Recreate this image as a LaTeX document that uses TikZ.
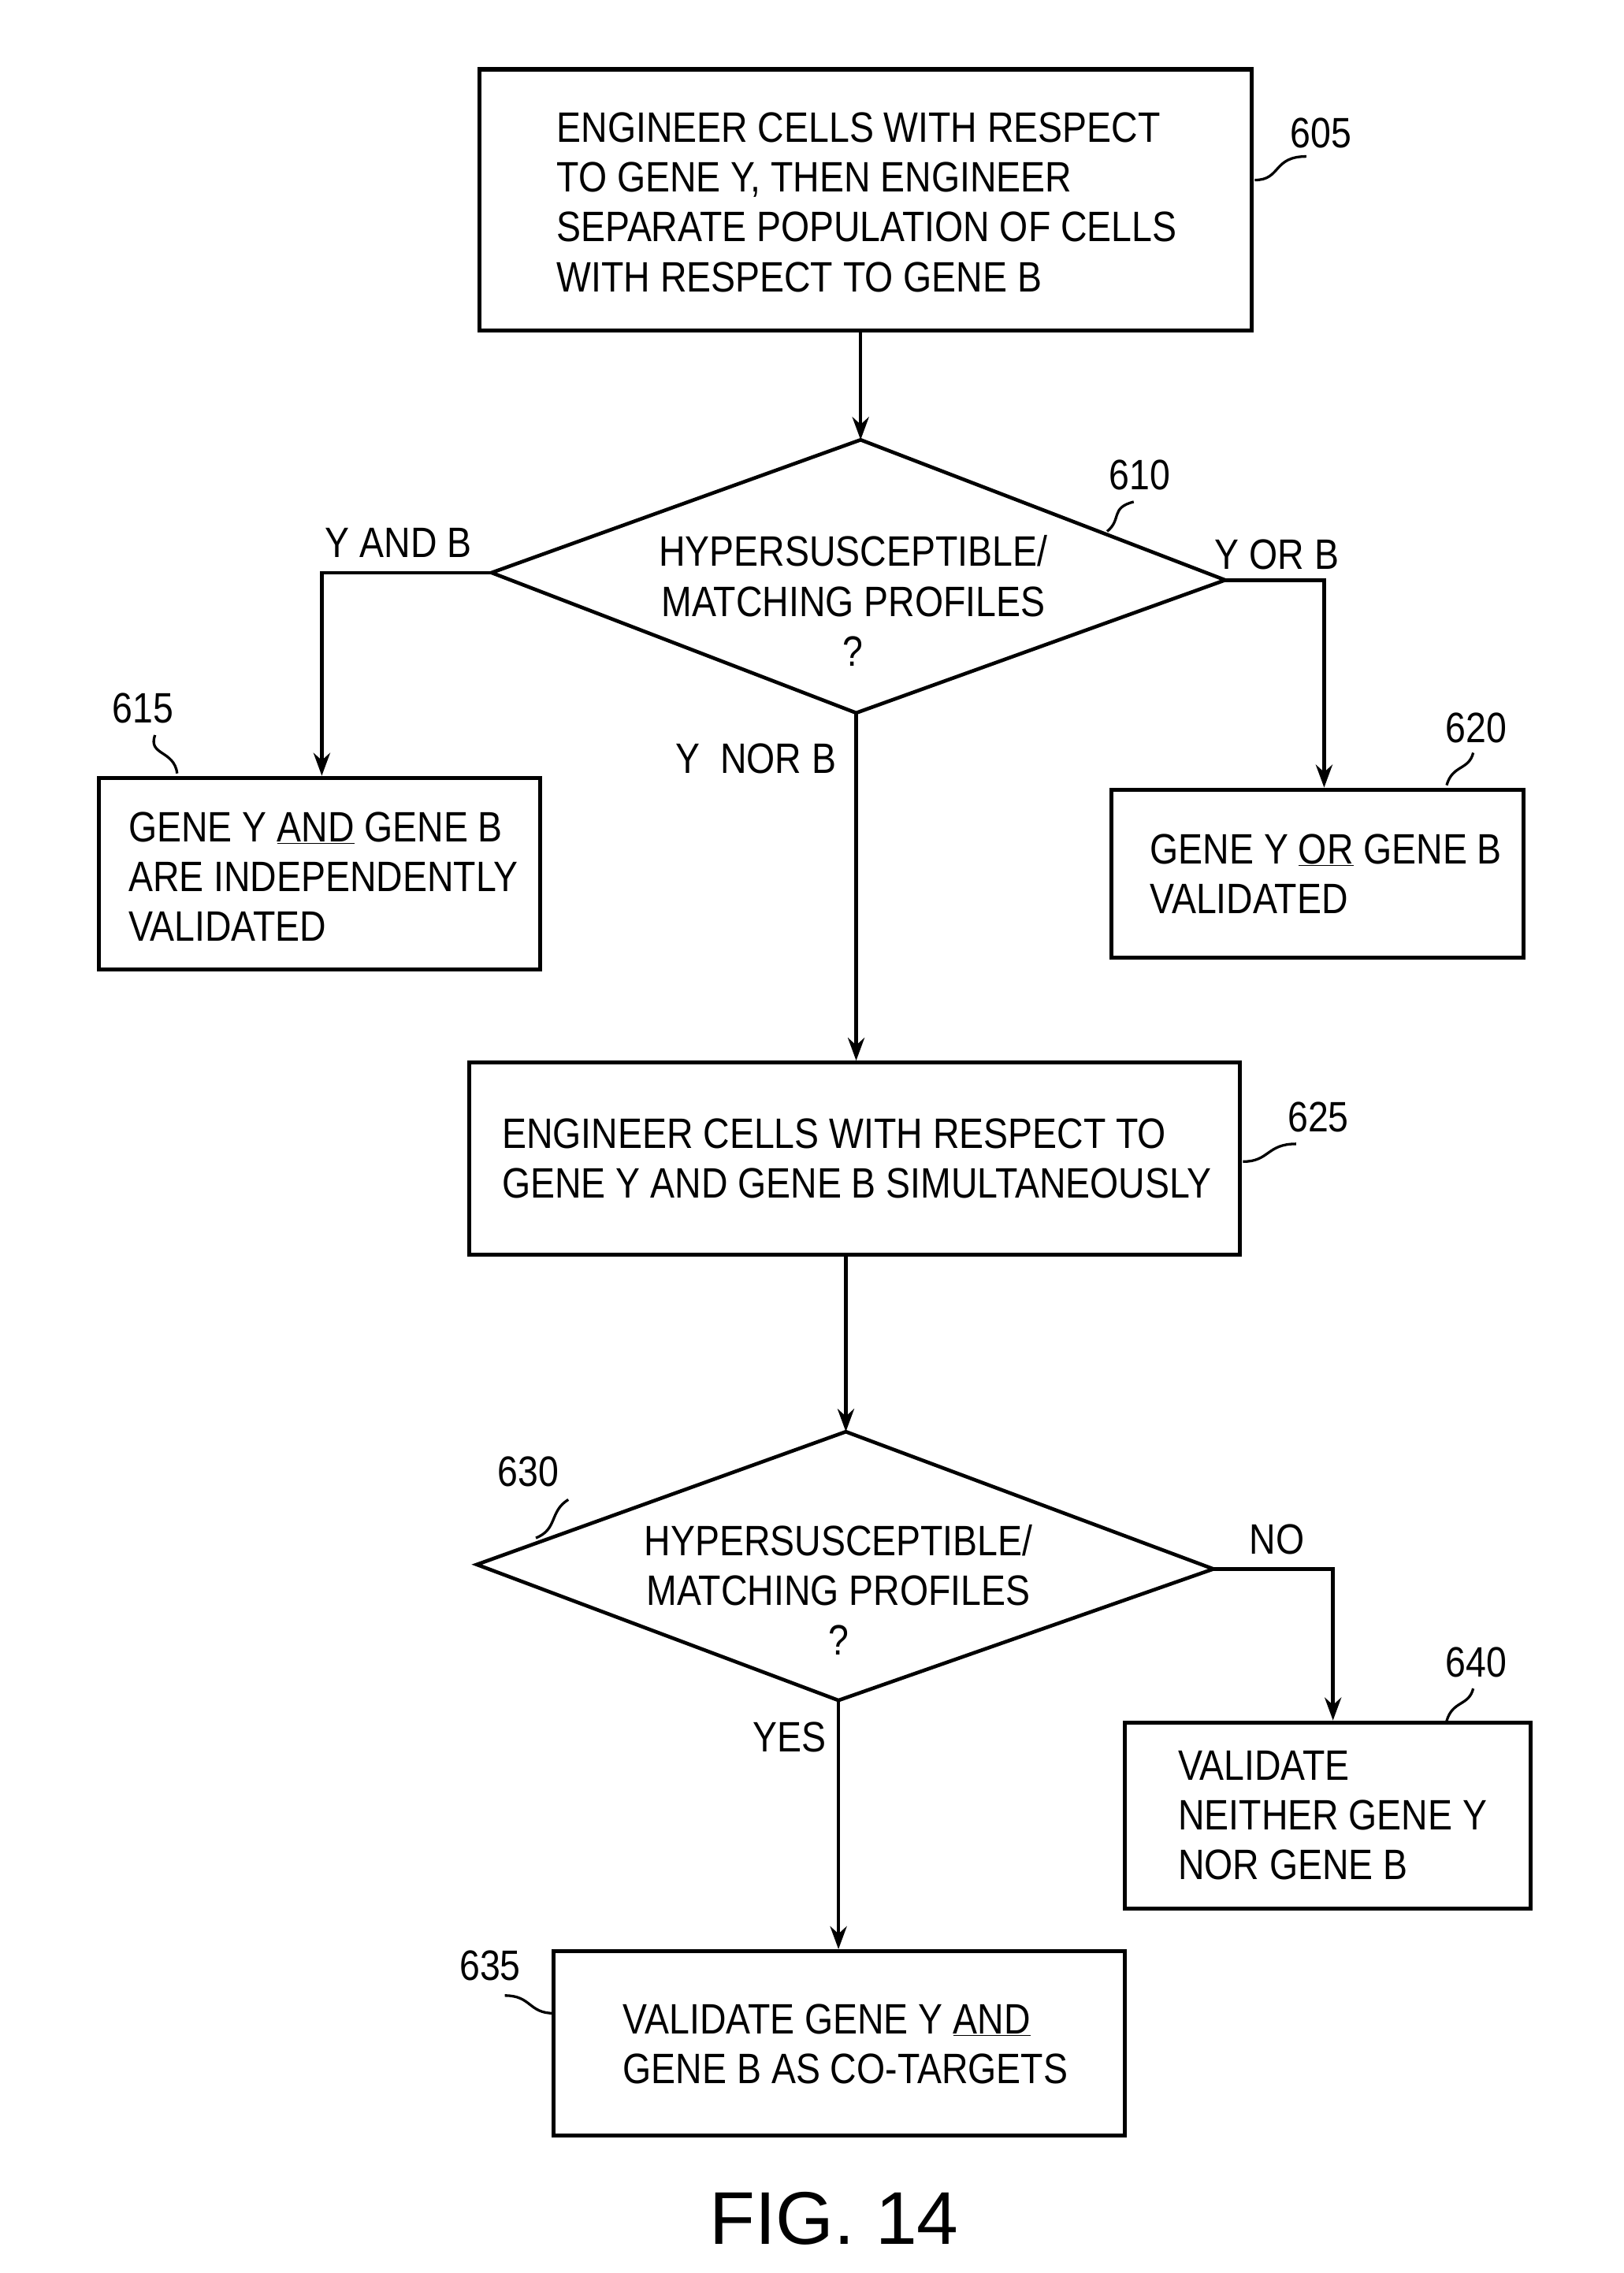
\documentclass[tikz,border=0pt]{standalone}
\usepackage{fontspec}
\setmainfont[FakeStretch=0.86]{Liberation Sans}
\newfontfamily\figfont{Liberation Sans}
\usetikzlibrary{arrows.meta}
\begin{document}
\begin{tikzpicture}[x=0.05cm,y=-0.05cm,
  box/.style={draw,line width=4pt,inner sep=0pt},
  txt/.style={anchor=west,align=left,inner sep=0pt,font=\fontsize{41}{48}\selectfont},
  lbl/.style={inner sep=0pt,font=\fontsize{41}{48}\selectfont},
  ln/.style={line width=3.5pt},
  arr/.style={ln,-{Stealth[length=22pt,width=16pt]}},
  sq/.style={line width=2.5pt}]
\useasboundingbox (0,0) rectangle (1100,1540);
% 605
\node[box,minimum width=523*0.05cm,minimum height=177*0.05cm] (b605) at (586.5,135.5) {};
\node[txt] (t605) at (377,137) {ENGINEER CELLS WITH RESPECT\\TO GENE Y, THEN ENGINEER\\SEPARATE POPULATION OF CELLS\\WITH RESPECT TO GENE B};
\node[lbl] (l605) at (895,90) {605};
\draw[sq] (850,122) .. controls (868,122) and (862,106) .. (885,106);
% diamond 610
\coordinate (d1t) at (583,298); \coordinate (d1l) at (333,388);
\coordinate (d1r) at (830,393); \coordinate (d1b) at (580,483);
\draw[ln] (d1t) -- (d1r) -- (d1b) -- (d1l) -- cycle;
\node[lbl,align=center] (t610) at (578,407) {HYPERSUSCEPTIBLE/\\MATCHING PROFILES\\?};
\node[lbl] (l610) at (772,322) {610};
\draw[sq] (750,360) .. controls (760,352) and (752,344) .. (768,340);
\draw[arr] (b605.south -| d1t) -- (d1t);
% 615
\node[box,minimum width=299*0.05cm,minimum height=130*0.05cm] (b615) at (216.5,592) {};
\node[txt] (t615) at (87,594) {GENE Y \underline{AND} GENE B\\ARE INDEPENDENTLY\\VALIDATED};
\node[lbl] (l615) at (97,480) {615};
\draw[sq] (105,498) .. controls (100,512) and (118,508) .. (120,524);
\node[lbl] (yab) at (270,368) {Y AND B};
\coordinate (c1) at (218,388);
\draw[arr] (d1l) -- (c1) -- (b615.north -| c1);
% 620
\node[box,minimum width=279*0.05cm,minimum height=114*0.05cm] (b620) at (892.5,592) {};
\node[txt] (t620) at (779,592) {GENE Y \underline{OR} GENE B\\VALIDATED};
\node[lbl] (l620) at (1000,493) {620};
\draw[sq] (980,532) .. controls (984,518) and (995,522) .. (998,510);
\node[lbl] (yob) at (865,376) {Y OR B};
\coordinate (c2) at (897,393);
\draw[arr] (d1r) -- (c2) -- (b620.north -| c2);
% 625
\node[box,minimum width=522*0.05cm,minimum height=130*0.05cm] (b625) at (579,785) {};
\node[txt] (t625) at (340,785) {ENGINEER CELLS WITH RESPECT TO\\GENE Y AND GENE B SIMULTANEOUSLY};
\node[lbl] (l625) at (893,757) {625};
\draw[sq] (842,787) .. controls (860,787) and (858,775) .. (878,775);
\node[lbl] (ynb) at (512,514) {Y\ \ NOR B};
\draw[arr] (d1b) -- (b625.north -| d1b);
% diamond 630
\coordinate (d2t) at (573,970); \coordinate (d2l) at (323,1060);
\coordinate (d2r) at (822,1063); \coordinate (d2b) at (568,1152);
\draw[ln] (d2t) -- (d2r) -- (d2b) -- (d2l) -- cycle;
\draw[arr] (b625.south -| d2t) -- (d2t);
\node[lbl,align=center] (t630) at (568,1077) {HYPERSUSCEPTIBLE/\\MATCHING PROFILES\\?};
\node[lbl] (l630) at (358,997) {630};
\draw[sq] (363,1042) .. controls (378,1036) and (372,1024) .. (385,1016);
% 640
\node[box,minimum width=275*0.05cm,minimum height=126*0.05cm] (b640) at (899.5,1230) {};
\node[txt] (t640) at (798,1230) {VALIDATE\\NEITHER GENE Y\\NOR GENE B};
\node[lbl] (l640) at (1000,1126) {640};
\draw[sq] (980,1166) .. controls (984,1152) and (995,1156) .. (998,1144);
\node[lbl] (no) at (865,1043) {NO};
\coordinate (c3) at (903,1063);
\draw[arr] (d2r) -- (c3) -- (b640.north -| c3);
% 635
\node[box,minimum width=387*0.05cm,minimum height=125*0.05cm] (b635) at (568.5,1384.5) {};
\node[txt] (t635) at (422,1385) {VALIDATE GENE Y \underline{AND}\\GENE B AS CO-TARGETS};
\node[lbl] (l635) at (332,1332) {635};
\draw[sq] (342,1352) .. controls (360,1352) and (358,1364) .. (375,1364);
\node[lbl] (yes) at (535,1177) {YES};
\draw[arr] (d2b) -- (b635.north -| d2b);
\node[inner sep=0pt,font=\figfont\fontsize{72}{80}\selectfont] (fig) at (565,1503) {FIG. 14};
\end{tikzpicture}
\end{document}
